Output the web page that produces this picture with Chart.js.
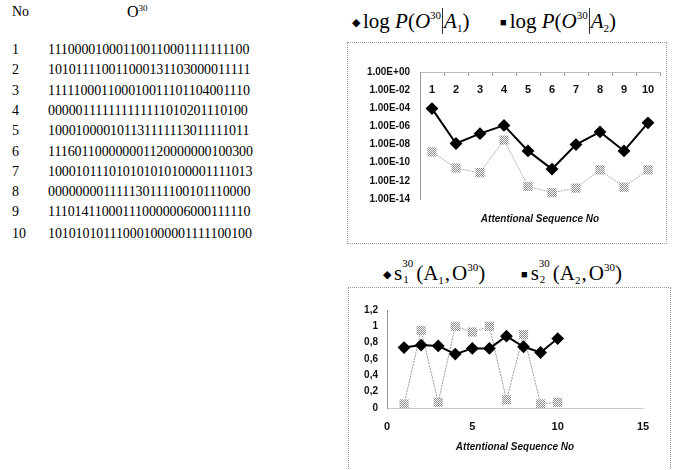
<!DOCTYPE html>
<html>
<head>
<meta charset="utf-8">
<script src="https://cdn.jsdelivr.net/npm/chart.js@4.4.1/dist/chart.umd.min.js"></script>
<style>
  body { margin: 0; background: #fff; width: 678px; height: 470px; overflow: hidden; position: relative; font-family: "Liberation Serif", serif; color: #000; }
  .abs { position: absolute; white-space: nowrap; }
  .row { position: absolute; font-size: 14px; line-height: 16px; }
  .row .n { position: absolute; left: 12px; }
  .row .s { position: absolute; left: 48px; letter-spacing: -0.1px; }
  .box { position: absolute; border: 1px dotted #999; }
  .leg { position: absolute; font-size: 21px; line-height: 24px; white-space: nowrap; }
  .leg sup { font-size: 11px; vertical-align: 9px; }
  .leg sub { font-size: 11px; vertical-align: -4px; }
  .mk { font-size: 11px; vertical-align: 2px; margin-right: 3px; }
  .bar { display: inline-block; border-left: 1px solid #333; height: 26px; vertical-align: -6px; margin: 0 1px; }
  .ss { display: inline-block; position: relative; width: 14px; height: 19px; }
  .ss .up { position: absolute; left: 0; top: -3px; font-size: 11px; line-height: 11px; }
  .ss .dn { position: absolute; left: 1px; top: 13px; font-size: 11px; line-height: 11px; }
  .cm { margin: 0 2px 0 1px; }
</style>
</head>
<body>
<div class="abs" style="left:12px;top:4px;font-size:14px;">No</div>
<div class="abs" style="left:127px;top:3px;font-size:16px;">O<sup style="font-size:9px;">30</sup></div>
<div id="rows"></div>

<div class="leg" style="left:352px;top:3px;"><span class="mk">&#9670;</span>log <i>P</i>(<i>O</i><sup>30</sup><span class="bar"></span><i>A</i><sub>1</sub>)</div>
<div class="leg" style="left:500px;top:3px;"><span class="mk">&#9632;</span>log <i>P</i>(<i>O</i><sup>30</sup><span class="bar"></span><i>A</i><sub>2</sub>)</div>
<div class="box" style="left:347px;top:42px;width:318px;height:200px;"></div>
<div class="abs" style="left:347px;top:42px;width:320px;height:202px;"><canvas id="top" width="320" height="202"></canvas></div>

<div class="leg" style="left:383px;top:255px;"><span class="mk">&#9670;</span>s<span class="ss"><span class="up">30</span><span class="dn">1</span></span>(A<sub>1</sub><span class="cm">,</span>O<sup>30</sup>)</div>
<div class="leg" style="left:521px;top:255px;"><span class="mk">&#9632;</span>s<span class="ss"><span class="up">30</span><span class="dn">2</span></span>(A<sub>2</sub><span class="cm">,</span>O<sup>30</sup>)</div>
<div class="box" style="left:348px;top:287px;width:321px;height:200px;"></div>
<div class="abs" style="left:348px;top:287px;width:322px;height:183px;"><canvas id="bot" width="322" height="183"></canvas></div>

<script>
// sequences O^30 for each attentional sequence
const seqRows = [
  '111000010001100110001111111100',
  '101011110011000131103000011111',
  '111110001100010011101104001110',
  '000001111111111111010201110100',
  '100010000101131111113011111011',
  '111601100000001120000000100300',
  '100010111010101010100001111013',
  '000000001111130111100101110000',
  '111014110001110000006000111110',
  '101010101110001000001111100100'
];

// log P(O|A) chart
const seqNo = ['1', '2', '3', '4', '5', '6', '7', '8', '9', '10'];
const logPA1 = [9.3e-5, 1.3e-8, 1.6e-7, 1.3e-6, 2e-9, 2e-11, 1e-8, 2.5e-7, 2e-9, 2.5e-6];
const logPA2 = [1.6e-9, 2.5e-11, 8e-12, 3.2e-8, 2.5e-13, 5e-14, 1.6e-13, 1.6e-11, 2e-13, 1.6e-11];
const logTicks = [1, 1e-2, 1e-4, 1e-6, 1e-8, 1e-10, 1e-12, 1e-14];

// similarity chart
const simX = [1, 2, 3, 4, 5, 6, 7, 8, 9, 10];
const s1 = [0.74, 0.77, 0.76, 0.66, 0.73, 0.73, 0.88, 0.75, 0.68, 0.85];
const s2 = [0.05, 0.95, 0.07, 1.0, 0.93, 1.0, 0.1, 0.9, 0.05, 0.07];

var rows = document.getElementById('rows');
seqRows.forEach(function (s, i) {
  var d = document.createElement('div');
  d.className = 'row';
  d.style.top = (42 + i * 20.3 + (i == 9 ? 1 : 0)) + 'px';
  d.innerHTML = '<span class="n">' + (i + 1) + '</span><span class="s">' + s + '</span>';
  rows.appendChild(d);
});

// halftone fill like the scanned squares
var pc = document.createElement('canvas');
pc.width = 2; pc.height = 2;
var px = pc.getContext('2d');
px.fillStyle = '#fff'; px.fillRect(0, 0, 2, 2);
px.fillStyle = '#8a8a8a'; px.fillRect(0, 0, 1, 1); px.fillRect(1, 1, 1, 1);
var halftone = document.createElement('canvas').getContext('2d').createPattern(pc, 'repeat');

function fmtE(v) {
  var e = Math.round(Math.log10(v));
  return '1.00E' + (e < 0 ? '-' : '+') + String(Math.abs(e)).padStart(2, '0');
}

var axisFont = { family: 'Liberation Sans, Arial, sans-serif', size: 10, weight: 'bold' };
var titleFont = { family: 'Liberation Sans, Arial, sans-serif', size: 10, weight: 'bold', style: 'italic' };

var ctx1 = document.getElementById('top').getContext('2d');
var myChart1 = new Chart(ctx1, {
  type: 'line',
  data: {
    labels: seqNo,
    datasets: [
      {
        label: 'log P(O30|A1)',
        data: logPA1,
        borderColor: '#000',
        borderWidth: 2,
        pointStyle: 'rectRot',
        pointRadius: 5,
        pointBackgroundColor: '#000',
        pointBorderColor: '#000',
      },
      {
        label: 'log P(O30|A2)',
        data: logPA2,
        borderColor: '#aaa',
        borderWidth: 1,
        borderDash: [2, 1],
        pointStyle: 'rect',
        pointRadius: 6.5,
        pointBorderWidth: 0,
        pointBackgroundColor: halftone,
      },
    ],
  },
  options: {
    responsive: false,
    animation: false,
    layout: { padding: { top: 30, right: 7, bottom: 19, left: 0 } },
    plugins: {
      legend: { display: false },
      tooltip: { enabled: false },
      title: {
        display: true,
        position: 'bottom',
        fullSize: false,
        text: 'Attentional Sequence No',
        color: '#111',
        font: titleFont,
        padding: { top: 14, bottom: 0 },
      },
    },
    scales: {
      x: {
        position: { y: 1 },
        offset: true,
        grid: { display: true, drawOnChartArea: false, offset: true, tickLength: 3, color: '#999' },
        border: { display: true, color: '#bbb', dash: [1, 3] },
        ticks: { color: '#111', font: { family: 'Liberation Sans, Arial, sans-serif', size: 11, weight: 'bold' }, padding: 8, maxRotation: 0 },
      },
      y: {
        type: 'logarithmic',
        min: 1e-14,
        max: 1,
        afterBuildTicks: function (s) { s.ticks = logTicks.map(function (v) { return { value: v }; }); },
        afterFit: function (s) { s.width = 73; },
        grid: { display: false, drawTicks: false },
        border: { display: true, color: '#999', dash: [1, 2] },
        ticks: { color: '#111', font: axisFont, padding: 10, callback: function (v) { return fmtE(v); } },
      },
    },
  },
});

var ctx2 = document.getElementById('bot').getContext('2d');
var myChart2 = new Chart(ctx2, {
  type: 'scatter',
  data: {
    datasets: [
      {
        label: 's1',
        data: simX.map(function (x, i) { return { x: x, y: s1[i] }; }),
        showLine: true,
        borderColor: '#000',
        borderWidth: 2,
        pointStyle: 'rectRot',
        pointRadius: 5,
        pointBackgroundColor: '#000',
        pointBorderColor: '#000',
      },
      {
        label: 's2',
        data: simX.map(function (x, i) { return { x: x, y: s2[i] }; }),
        showLine: true,
        borderColor: '#999',
        borderWidth: 1,
        borderDash: [2, 1],
        pointStyle: 'rect',
        pointRadius: 6.5,
        pointBorderWidth: 0,
        pointBackgroundColor: halftone,
      },
    ],
  },
  options: {
    responsive: false,
    animation: false,
    layout: { padding: { top: 23, right: 27, bottom: 0, left: 0 } },
    plugins: { legend: { display: false }, tooltip: { enabled: false } },
    scales: {
      x: {
        type: 'linear',
        min: 0,
        max: 15,
        afterFit: function (s) { s.height = 62; },
        grid: { display: false, drawTicks: false },
        border: { display: true, color: '#ccc', dash: [1, 3] },
        ticks: { stepSize: 5, color: '#111', font: { family: 'Liberation Sans, Arial, sans-serif', size: 11, weight: 'bold' }, padding: 12 },
        title: { display: true, text: 'Attentional Sequence No', color: '#111', font: titleFont, padding: { top: 0, bottom: 17 } },
      },
      y: {
        min: 0,
        max: 1.2,
        afterFit: function (s) { s.width = 39; },
        grid: { display: false, drawTicks: false },
        border: { display: true, color: '#999', dash: [1, 2] },
        ticks: {
          stepSize: 0.2, color: '#111', font: axisFont, padding: 9,
          callback: function (v) { return String(Math.round(v * 10) / 10).replace('.', ','); },
        },
      },
    },
  },
});
</script>
</body>
</html>
